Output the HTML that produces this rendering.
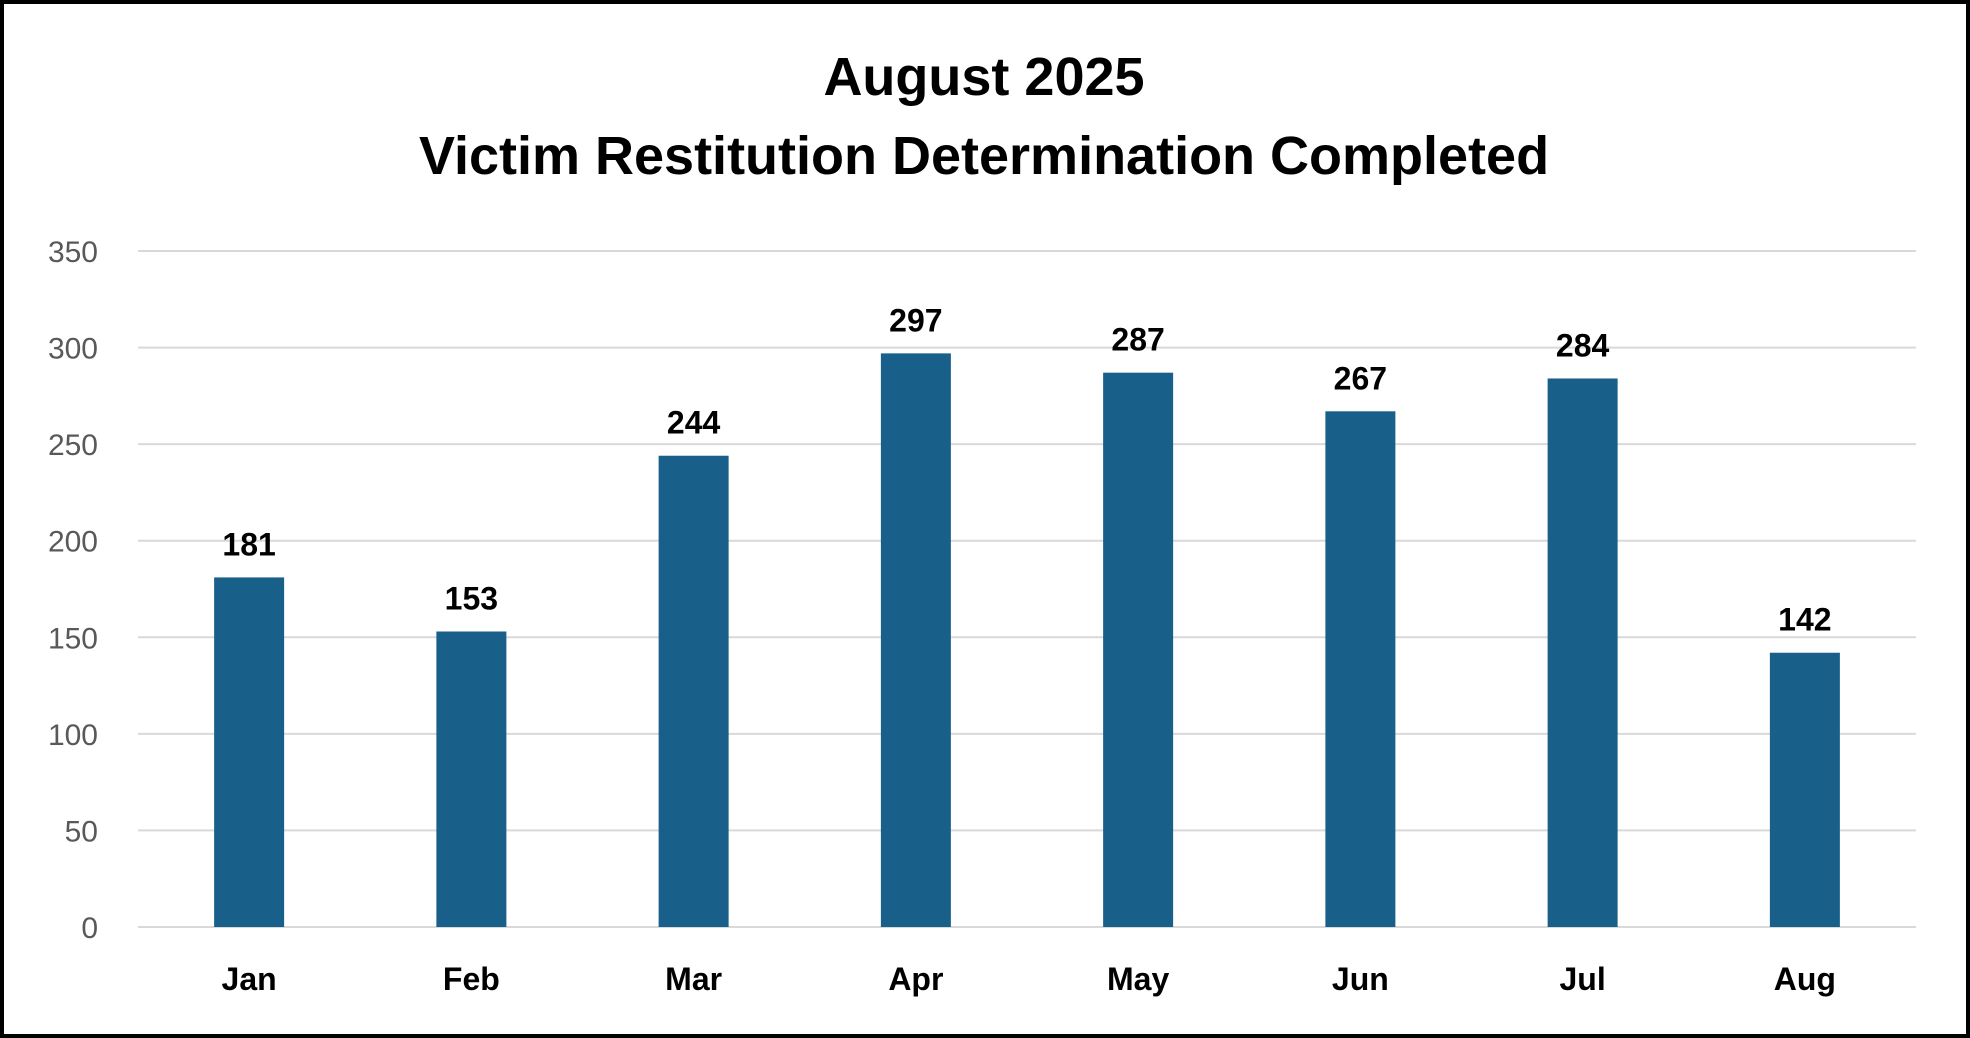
<!DOCTYPE html>
<html><head><meta charset="utf-8"><style>
html,body{margin:0;padding:0;background:#fff;}
svg{display:block;font-family:"Liberation Sans",sans-serif;}
</style></head><body>
<svg id="chart" width="1970" height="1038">
<rect x="2" y="2" width="1966" height="1034" fill="#fff" stroke="#000" stroke-width="4"/>
<text x="984" y="95" text-anchor="middle" font-size="54" font-weight="bold">August 2025</text>
<text x="984" y="174" text-anchor="middle" font-size="54" font-weight="bold">Victim Restitution Determination Completed</text>
<g id="grid"></g><g id="bars"></g><g id="labels"></g>
</svg>
<script>
const categories=["Jan","Feb","Mar","Apr","May","Jun","Jul","Aug"];
const values=[181,153,244,297,287,267,284,142];
const ticks=[0,50,100,150,200,250,300,350];
const ns="http://www.w3.org/2000/svg";
const L=138,R=1916,Y0=927,Y350=251;
const y=v=>Y0-(v/350)*(Y0-Y350);
const band=(R-L)/categories.length;
const x=i=>L+band*(i+0.5);
const bw=70;
function mk(t,a,p){const e=document.createElementNS(ns,t);for(const k in a)e.setAttribute(k,a[k]);document.getElementById(p).appendChild(e);return e;}
ticks.forEach(t=>{
 const l=mk("line",{x1:L,x2:R,y1:y(t),y2:y(t),stroke:"#d9d9d9","stroke-width":2},"grid");
 
 
 const tx=mk("text",{x:98,y:y(t)+11,"text-anchor":"end","font-size":30,fill:"#595959"},"grid");
 tx.textContent=t;
 
 
});
values.forEach((v,i)=>{
 const b=mk("rect",{x:x(i)-bw/2,y:y(v),width:bw,height:Y0-y(v),fill:"#186089"},"bars");
 
 
 const t=mk("text",{x:x(i),y:y(v)-22,"text-anchor":"middle","font-size":32,"font-weight":"bold"},"labels");
 t.textContent=v;
 
 
 const c=mk("text",{x:x(i),y:990,"text-anchor":"middle","font-size":32,"font-weight":"bold"},"labels");
 c.textContent=categories[i];
 
 
});
</script>
</body></html>
